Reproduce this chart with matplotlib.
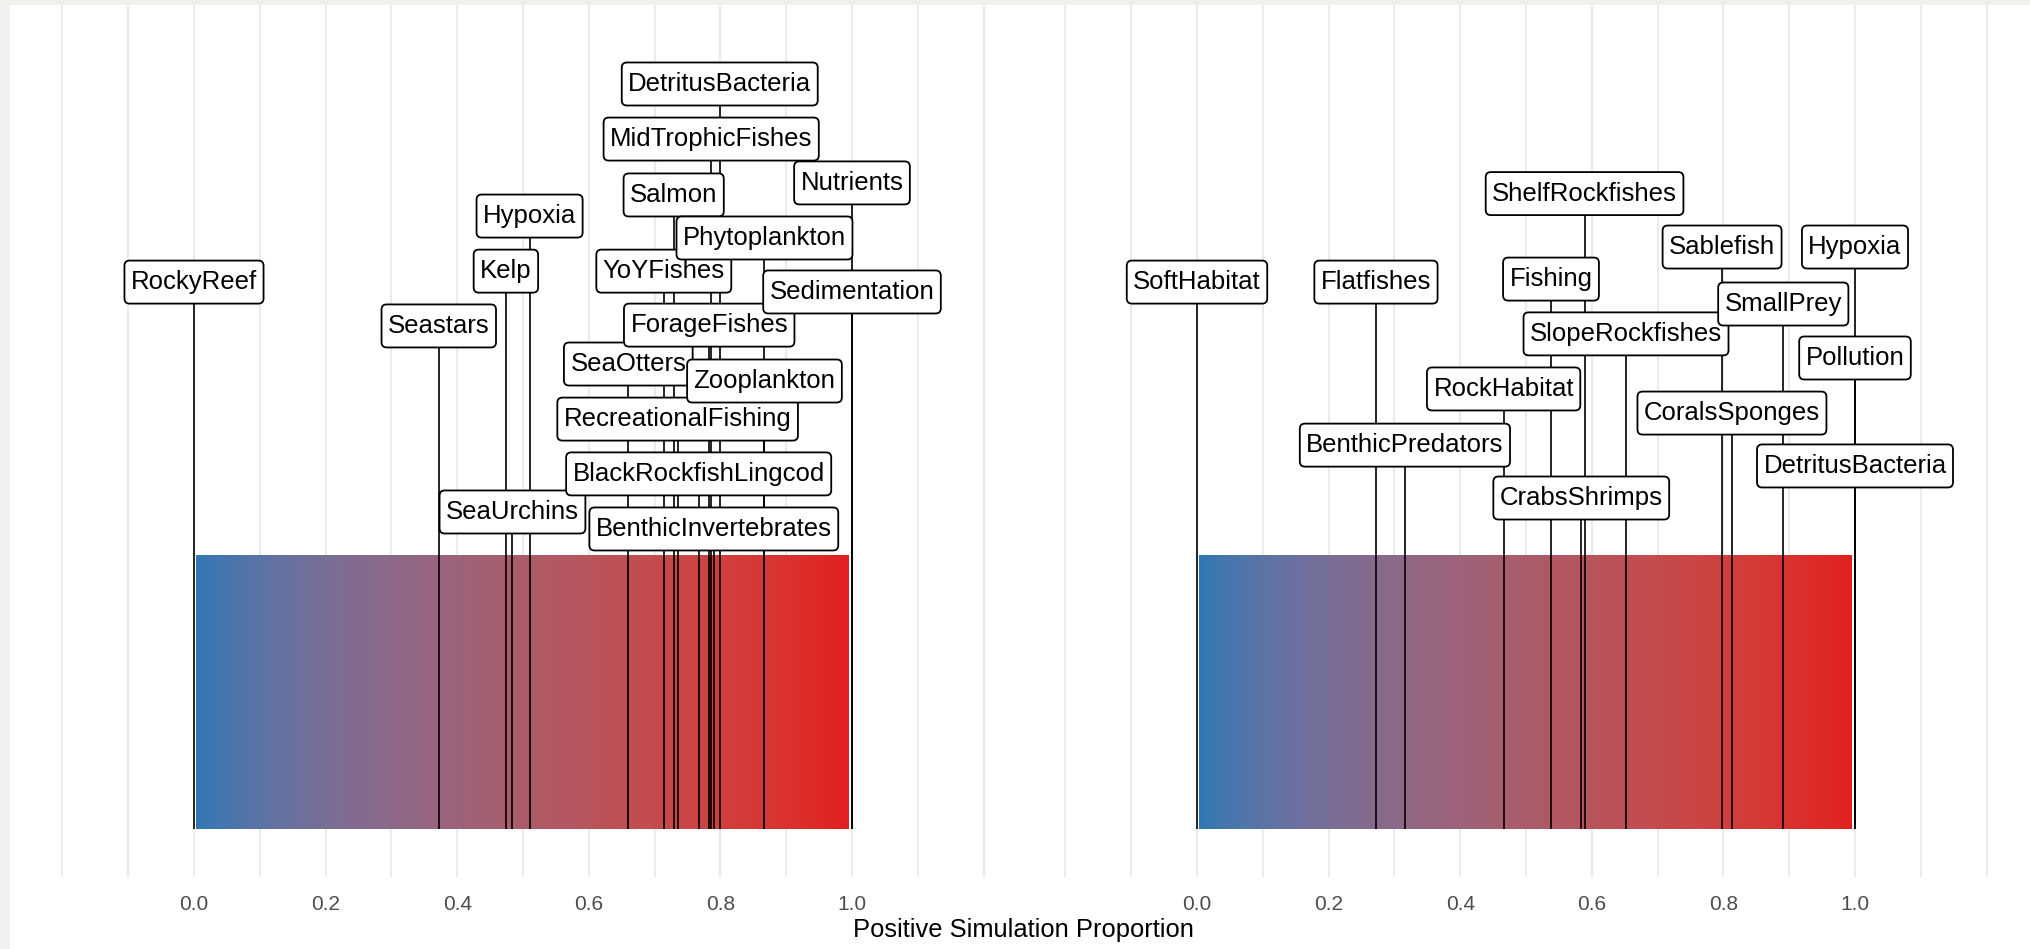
import numpy as np
import matplotlib
matplotlib.use("Agg")
import matplotlib.pyplot as plt
from matplotlib.patches import Rectangle, BoxStyle

plt.rcParams['font.family'] = ['Liberation Sans', 'DejaVu Sans']

# ---------------- data ----------------
left_labels = ["RockyReef", "Seastars", "Kelp", "SeaUrchins", "Hypoxia", "SeaOtters",
               "YoYFishes", "Salmon", "RecreationalFishing", "BlackRockfishLingcod",
               "ForageFishes", "MidTrophicFishes", "BenthicInvertebrates",
               "DetritusBacteria", "Phytoplankton", "Zooplankton", "Nutrients",
               "Sedimentation"]
left_values = [0.0, 0.372, 0.474, 0.484, 0.510, 0.660, 0.714, 0.729, 0.735, 0.767,
               0.783, 0.786, 0.790, 0.799, 0.867, 0.867, 1.0, 1.0]

right_labels = ["SoftHabitat", "Flatfishes", "BenthicPredators", "RockHabitat", "Fishing",
                "CrabsShrimps", "ShelfRockfishes", "SlopeRockfishes", "Sablefish",
                "CoralsSponges", "SmallPrey", "Hypoxia", "Pollution", "DetritusBacteria"]
right_values = [0.0, 0.272, 0.316, 0.466, 0.538, 0.584, 0.589, 0.652, 0.798, 0.813,
                0.891, 1.0, 1.0, 1.0]

tick_values = [0.0, 0.2, 0.4, 0.6, 0.8, 1.0]
tick_labels = ["0.0", "0.2", "0.4", "0.6", "0.8", "1.0"]
x_title = "Positive Simulation Proportion"

# ---------------- layout (repelled label heights, in bar-height units) ----------------
left_levels = [1.996, 1.836, 2.036, 1.157, 2.237, 1.697, 2.036, 2.314, 1.496, 1.296,
               1.839, 2.518, 1.095, 2.719, 2.157, 1.635, 2.358, 1.960]
right_levels = [1.996, 1.996, 1.401, 1.606, 2.007, 1.208, 2.319, 1.807, 2.124, 1.518,
                1.916, 2.124, 1.719, 1.325]

LOW = "#2E78B4"
HIGH = "#E21F20"


# ---------------- Lab gradient like ggplot ----------------
def _hex(c):
    c = c.lstrip('#')
    return np.array([int(c[i:i + 2], 16) / 255 for i in (0, 2, 4)])


def srgb2lab(rgb):
    rgb = np.where(rgb <= 0.04045, rgb / 12.92, ((rgb + 0.055) / 1.055) ** 2.4)
    M = np.array([[0.4124, 0.3576, 0.1805], [0.2126, 0.7152, 0.0722], [0.0193, 0.1192, 0.9505]])
    xyz = M @ rgb
    wp = np.array([0.95047, 1.0, 1.08883])
    t = xyz / wp
    f = np.where(t > (6 / 29) ** 3, np.cbrt(t), t / (3 * (6 / 29) ** 2) + 4 / 29)
    return np.array([116 * f[1] - 16, 500 * (f[0] - f[1]), 200 * (f[1] - f[2])])


def lab2srgb(lab):
    L, a, b = lab
    fy = (L + 16) / 116
    fx = fy + a / 500
    fz = fy - b / 200
    f = np.array([fx, fy, fz])
    t = np.where(f > 6 / 29, f ** 3, 3 * (6 / 29) ** 2 * (f - 4 / 29))
    xyz = t * np.array([0.95047, 1.0, 1.08883])
    Mi = np.array([[3.2406, -1.5372, -0.4986], [-0.9689, 1.8758, 0.0415], [0.0557, -0.2040, 1.0570]])
    rgb = Mi @ xyz
    rgb = np.where(rgb <= 0.0031308, 12.92 * rgb, 1.055 * np.clip(rgb, 0, None) ** (1 / 2.4) - 0.055)
    return np.clip(rgb, 0, 1)


lab_lo, lab_hi = srgb2lab(_hex(LOW)), srgb2lab(_hex(HIGH))
n = 400
grad = np.array([lab2srgb(lab_lo + (lab_hi - lab_lo) * t) for t in np.linspace(0, 1, n)])
grad_img = grad[np.newaxis, :, :]

# label box: rounded, different horizontal / vertical padding (like ggrepel)
_round = BoxStyle.Round(pad=0.0, rounding_size=0.2)


def label_box(x0, y0, width, height, mutation_size):
    px = 0.25 * mutation_size
    py = 0.37 * mutation_size
    return _round(x0 - px, y0 - py, width + 2 * px, height + 2 * py, mutation_size)


# ---------------- figure ----------------
W, H = 2031, 949
fig = plt.figure(figsize=(W / 100, H / 100), dpi=100, facecolor="white")

# screenshot-like grey border (top & left)
fig.patches.append(Rectangle((0, 1 - 5 / H), 1, 5 / H, transform=fig.transFigure,
                             facecolor="#F0F0EE", edgecolor="none", zorder=0))
fig.patches.append(Rectangle((0, 0), 10 / W, 1, transform=fig.transFigure,
                             facecolor="#F0F0EE", edgecolor="none", zorder=0))

unit = 658.0  # px per 1.0 on x
xlo, xhi = -0.25, 1.25
px_bottom, px_top = 877, 5
bar_bot_px, bar_top_px = 829, 555
bar_h = bar_bot_px - bar_top_px
ylo = (bar_bot_px - px_bottom) / bar_h
yhi = (bar_bot_px - px_top) / bar_h

zero_px = [194, 1197]
panels = [(left_labels, left_values, left_levels), (right_labels, right_values, right_levels)]

for zp, (labs, vals, levels) in zip(zero_px, panels):
    left_px = zp + xlo * unit
    ax = fig.add_axes([left_px / W, (H - px_bottom) / H, (xhi - xlo) * unit / W,
                       (px_bottom - px_top) / H])
    ax.set_xlim(xlo, xhi)
    ax.set_ylim(ylo, yhi)
    ax.set_facecolor("none")
    for s in ax.spines.values():
        s.set_visible(False)
    for g in np.arange(-0.2, 1.21, 0.1):
        ax.axvline(g, color="#EBEBEB", lw=1.5, zorder=0)
    ax.imshow(grad_img, extent=[0.003, 0.995, 0, 1], aspect="auto", zorder=1,
              interpolation="bilinear")
    ax.set_xticks(tick_values)
    ax.set_xticklabels(tick_labels, color="#4D4D4D", fontsize=15)
    ax.tick_params(axis="x", length=0, pad=13)
    ax.set_yticks([])
    for lab, v, lev in zip(labs, vals, levels):
        ax.plot([v, v], [0, lev], color="black", lw=1.2, zorder=2, solid_capstyle="butt")
    for lab, v, lev in zip(labs, vals, levels):
        ax.text(v, lev, lab, ha="center", va="center", fontsize=18.5, color="black", zorder=4,
                bbox=dict(boxstyle=label_box, facecolor="white",
                          edgecolor="black", linewidth=1.3))

fig.text(1023 / W, (H - 930) / H, x_title, ha="center", va="center", fontsize=18.4,
         color="black")

fig.savefig("out.png", dpi=100, facecolor="white")
